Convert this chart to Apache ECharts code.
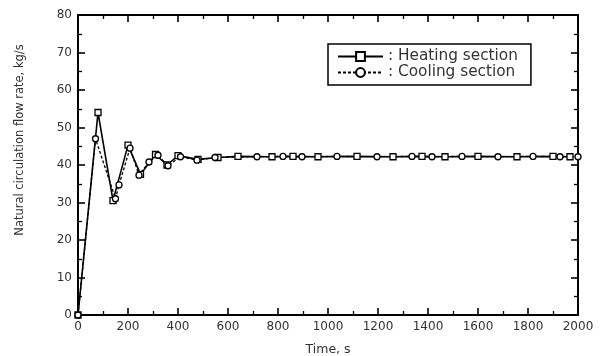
<!DOCTYPE html>
<html><head><meta charset="utf-8">
<script src="https://cdn.jsdelivr.net/npm/echarts@6/dist/echarts.min.js"></script>
<style>html,body{margin:0;padding:0;background:#fff}#c{width:602px;height:356px}</style>
</head><body><div id="c"></div>
<script>
var heatingTime = [0, 80, 140, 200, 250, 310, 356, 400, 480, 560, 640, 776, 860, 960, 1116, 1260, 1376, 1468, 1600, 1756, 1900, 1968];
var heatingFlow = [0, 54, 30.5, 45.3, 37.5, 42.8, 40, 42.5, 41.5, 42, 42.3, 42.2, 42.3, 42.2, 42.3, 42.2, 42.3, 42.2, 42.3, 42.2, 42.3, 42.2];
var coolingTime = [0, 70, 150, 164, 208, 244, 284, 320, 360, 410, 476, 548, 716, 820, 896, 1036, 1196, 1336, 1416, 1536, 1680, 1820, 1928, 2000];
var coolingFlow = [0, 47, 31, 34.7, 44.5, 37.3, 40.8, 42.6, 39.8, 42.2, 41.3, 42, 42.2, 42.3, 42.2, 42.3, 42.2, 42.3, 42.2, 42.3, 42.2, 42.3, 42.2, 42.2];
var xTicks = [0, 200, 400, 600, 800, 1000, 1200, 1400, 1600, 1800, 2000];
var yTicks = [0, 10, 20, 30, 40, 50, 60, 70, 80];

function pairs(t, v){ return t.map(function(x,i){return [x, v[i]];}); }
var font = 'DejaVu Sans, sans-serif';
var axisLine = {show:true, onZero:false, lineStyle:{color:'#000', width:2}};
var tick = {show:true, inside:true, length:7, lineStyle:{color:'#000', width:1.6}};
var minor = {show:true, splitNumber:2, length:4, lineStyle:{color:'#000', width:1.3}};
var chart = echarts.init(document.getElementById('c'));
chart.setOption({
  animation:false,
  backgroundColor:'#fff',
  grid:{left:78, right:24, top:15, bottom:41, containLabel:false, outerBoundsMode:'none'},
  legend:{
    top:44, left:328, orient:'vertical', itemGap:1,
    itemWidth:45, itemHeight:11,
    borderColor:'#000', borderWidth:1.5, padding:[5,13,5,9],
    textStyle:{fontFamily:font, fontSize:15.3, color:'#333'},
    formatter:function(n){return ': ' + n;},
    data:[{name:'Heating section'},{name:'Cooling section'}]
  },
  xAxis:[{
    type:'value', min:0, max:2000, interval:200,
    axisLine:axisLine, axisTick:tick, minorTick:minor,
    splitLine:{show:false},
    axisLabel:{fontFamily:font, fontSize:12, color:'#333', margin:6,
      formatter:function(v){return xTicks.indexOf(v)>=0 ? String(v) : '';}},
    name:'Time, s', nameLocation:'middle', nameGap:28,
    nameTextStyle:{fontFamily:font, fontSize:12.5, color:'#333'}
  },{
    type:'value', position:'top', min:0, max:2000, interval:200,
    axisLine:axisLine, axisTick:tick, minorTick:minor,
    splitLine:{show:false}, axisLabel:{show:false}
  }],
  yAxis:[{
    type:'value', min:0, max:80, interval:10,
    axisLine:axisLine, axisTick:tick, minorTick:minor,
    splitLine:{show:false},
    axisLabel:{fontFamily:font, fontSize:12, color:'#333', margin:6,
      formatter:function(v){return yTicks.indexOf(v)>=0 ? String(v) : '';}},
    name:'Natural circulation flow rate, kg/s', nameLocation:'middle', nameGap:52,
    nameTextStyle:{fontFamily:font, fontSize:11.5, color:'#333', padding:[0,0,0,50]}
  },{
    type:'value', position:'right', min:0, max:80, interval:10,
    axisLine:axisLine, axisTick:tick, minorTick:minor,
    splitLine:{show:false}, axisLabel:{show:false}
  }],
  series:[{
    name:'Heating section', type:'line', data:pairs(heatingTime, heatingFlow),
    symbol:'rect', symbolSize:6,
    lineStyle:{color:'#000', width:1.6},
    itemStyle:{color:'#fff', borderColor:'#000', borderWidth:1.3}
  },{
    name:'Cooling section', type:'line', data:pairs(coolingTime, coolingFlow),
    symbol:'circle', symbolSize:6,
    lineStyle:{color:'#000', width:1.3, type:[3,2]},
    itemStyle:{color:'#fff', borderColor:'#000', borderWidth:1.3}
  }]
});
</script></body></html>
